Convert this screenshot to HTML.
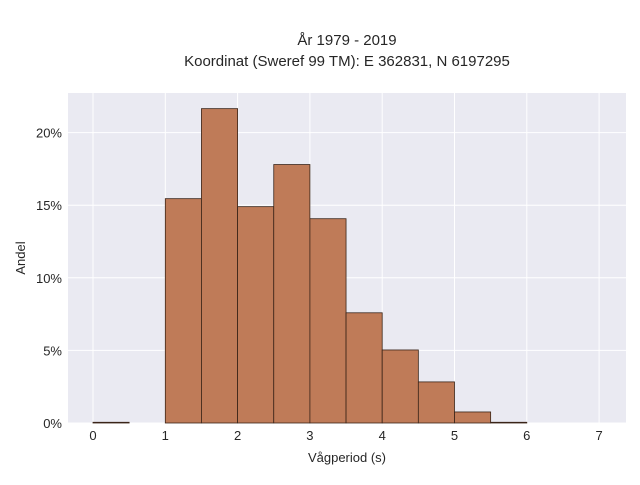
<!DOCTYPE html>
<html><head><meta charset="utf-8"><style>
body{margin:0;background:#fff;}
svg text{font-family:"Liberation Sans",sans-serif;fill:#262626;}
</style></head><body>
<svg width="640" height="480">
<rect x="0" y="0" width="640" height="480" fill="#fff"/>
<text x="347" y="45" text-anchor="middle" font-size="15">År 1979 - 2019</text>
<text x="347" y="66" text-anchor="middle" font-size="15">Koordinat (Sweref 99 TM): E 362831, N 6197295</text>
<rect x="68" y="93" width="558" height="330" fill="#eaeaf2"/>
<g id="grid"></g>
<g id="bars"></g>
<g id="ticks"></g>
<text x="347" y="462" text-anchor="middle" font-size="13">Vågperiod (s)</text>
<text x="25" y="258" text-anchor="middle" font-size="13" transform="rotate(-90 25 258)">Andel</text>
</svg>
<script>
const binStarts=[0,0.5,1,1.5,2,2.5,3,3.5,4,4.5,5,5.5];
const shares=[0.05,0,15.45,21.65,14.9,17.8,14.07,7.59,5.03,2.83,0.76,0.05];
const xTicks=[0,1,2,3,4,5,6,7];
const yTicks=[0,5,10,15,20];
const binWidth=0.5;
const NS="http://www.w3.org/2000/svg";
const xs=v=>93+v*72.3;
const ys=v=>423-v*14.52;
const grid=document.getElementById('grid'),bars=document.getElementById('bars'),ticks=document.getElementById('ticks');
function mk(tag,attrs,parent){const e=document.createElementNS(NS,tag);for(const k in attrs)e.setAttribute(k,attrs[k]);parent.appendChild(e);return e;}
xTicks.forEach(t=>{
 const l=mk('line',{x1:xs(t),x2:xs(t),y1:93,y2:423,stroke:'#fff','stroke-width':1},grid);
 
 
 const tx=mk('text',{x:xs(t),y:440,'text-anchor':'middle','font-size':13},ticks);
 tx.textContent=t;
 
 
});
yTicks.forEach(t=>{
 const l=mk('line',{x1:68,x2:626,y1:ys(t),y2:ys(t),stroke:'#fff','stroke-width':1},grid);
 
 
 const tx=mk('text',{x:62,y:ys(t)+5,'text-anchor':'end','font-size':13},ticks);
 tx.textContent=t+'%';
 
 
});
binStarts.forEach((b,i)=>{
 if(shares[i]<=0)return;
 const x0=xs(b),x1=xs(b+binWidth),y=ys(shares[i]);
 const r=mk('rect',{x:x0,y:y,width:x1-x0,height:423-y,fill:'#bf7b58',stroke:'#3a2418','stroke-width':0.8},bars);
 
 
});
</script>
</body></html>
